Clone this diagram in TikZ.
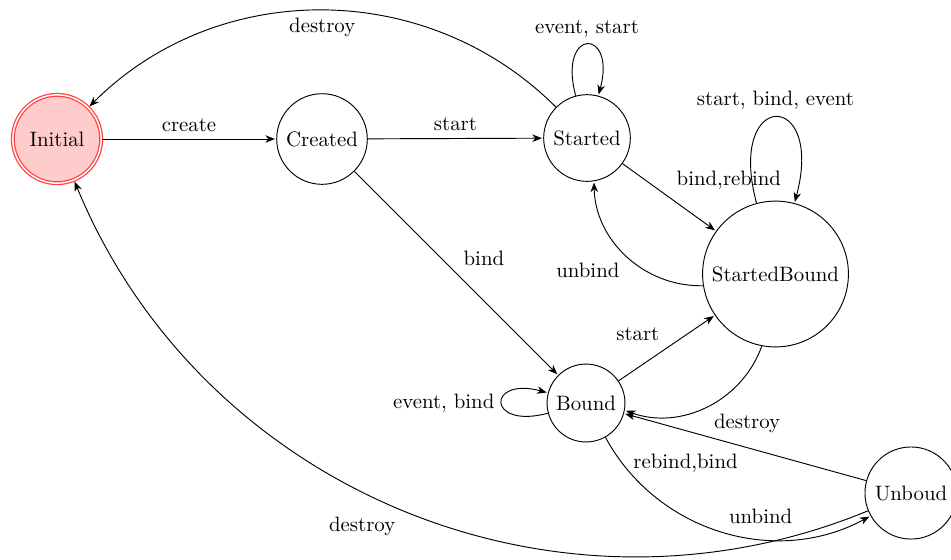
\documentclass[tikz,border=0pt]{standalone}
\usetikzlibrary{arrows.meta}
\begin{document}
\begin{tikzpicture}[x=0.48pt,y=-0.48pt,
  state/.style={circle,draw,inner sep=0pt,line width=0.45pt},
  accept/.style={state,draw=red!75,fill=red!20,double,double distance=0.7pt,line width=0.6pt},
  trans/.style={-{Stealth[length=4.6pt,width=3.6pt,inset=1.4pt]},line width=0.45pt,shorten >=0.6pt}]
\useasboundingbox (0,0) rectangle (951,559);

% states
\node[accept,minimum size=42.4pt] (I)  at (57,139)    {Initial};
\node[state,minimum size=43.5pt]  (C)  at (322,139)   {Created};
\node[state,minimum size=41.6pt]  (S)  at (587,138)   {Started};
\node[state,minimum size=70pt]    (SB) at (775.5,274) {StartedBound};
\node[state,minimum size=37.4pt]  (B)  at (586,403)   {Bound};
\node[state,minimum size=44.2pt]  (U)  at (911,493)   {Unboud};

% transitions
\begin{scope}[trans,auto]
\draw (I) -- node {create} (C);
\draw (C) -- node {start} (S);
\draw (S) to[bend right=45] node {destroy} (I);
\draw (S) to[loop above] node[above] {event, start} (S);
\draw (S) -- node {bind,rebind} (SB);
\draw (SB) to[bend left=45] node {unbind} (S);
\draw (SB) to[loop above] node[above] {start, bind, event} (SB);
\draw (C) -- node {bind} (B);
\draw (B) to[loop left] node[left] {event, bind} (B);
\draw (B) -- node {start} (SB);
\draw (SB) to[bend left=45] node {destroy} (B);
\draw (B) to[bend right=45] node {unbind} (U);
\draw (U) -- node {rebind,bind} (B);
\draw (U) to[bend left=45] node {destroy} (I);
\end{scope}
\end{tikzpicture}
\end{document}
